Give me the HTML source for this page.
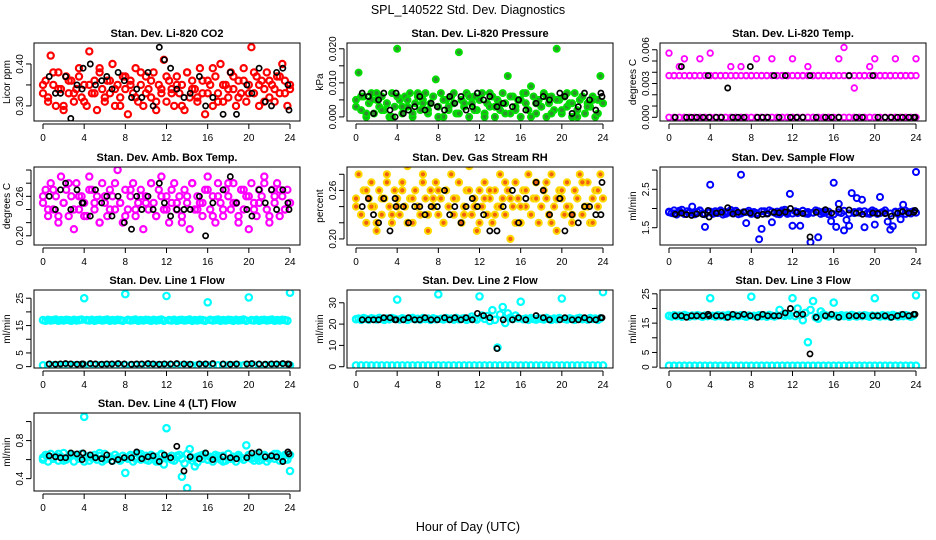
<!DOCTYPE html>
<html><head><meta charset="utf-8">
<style>
html,body{margin:0;padding:0;background:#fff;}
svg{display:block;font-family:"Liberation Sans",Arial,sans-serif;}
.t{font-size:11px;font-weight:bold;text-anchor:middle;}
.tk{font-size:10px;}
</style></head>
<body>
<svg id="chart" width="936" height="540" viewBox="0 0 936 540" xmlns="http://www.w3.org/2000/svg">
<rect x="0" y="0" width="936" height="540" fill="#fff"/>
<text x="468" y="14" text-anchor="middle" font-size="12.5">SPL_140522  Std. Dev. Diagnostics</text>
<text x="468" y="531" text-anchor="middle" font-size="12.5">Hour of Day (UTC)</text>
</svg>
<script>
// ---------- data ----------
const xTicks = [0,4,8,12,16,20,24];
const blackHours = [0.6,1.2,1.7,2.2,2.7,3.3,3.8,3.9,4.6,5.1,5.7,6.2,6.7,7.3,7.9,8.6,9.1,9.6,10.2,10.7,11.3,11.8,12.4,13.0,13.7,14.3,15.2,15.8,16.5,17.5,18.2,18.8,19.8,20.3,21.0,21.6,22.2,22.7,23.3,23.8,23.9];

const co2A = [0.33,0.36,0.31,0.42,0.35,0.30,0.38,0.34,0.29,0.37,0.33,0.36,0.31,0.34,0.39,0.32,0.35,0.30,0.43,0.33,0.36,0.29,0.38,0.34,0.31,0.36,0.33,0.40,0.30,0.35,0.32,0.37,0.34,0.28,0.36,0.33,0.39,0.31,0.35,0.30,0.37,0.34,0.32,0.38,0.29,0.35,0.33,0.41,0.31,0.36,0.34,0.30,0.37,0.33,0.35,0.29,0.38,0.32,0.36,0.34,0.31,0.39,0.33,0.28,0.36,0.35,0.30,0.37,0.33,0.40,0.31,0.35,0.32,0.38,0.34,0.30,0.36,0.33,0.39,0.31,0.35,0.44,0.33,0.37,0.30,0.36,0.34,0.38,0.32,0.35,0.31,0.37,0.33,0.40,0.36,0.30,0.34];
const co2B = [0.35,0.32,0.38,0.34,0.30,0.36,0.33,0.37,0.31,0.35,0.33,0.39,0.32,0.36,0.34,0.30,0.37,0.35,0.32,0.38,0.33,0.36,0.31,0.34,0.37,0.33,0.35,0.30,0.38,0.34,0.32,0.36,0.33,0.39,0.31,0.35,0.34,0.37,0.32,0.36,0.33,0.38,0.35,0.31,0.36,0.34,0.37,0.33,0.35];
const co2Black = [0.37,0.33,0.33,0.37,0.27,0.35,0.34,0.39,0.40,0.35,0.36,0.37,0.34,0.38,0.36,0.32,0.34,0.32,0.38,0.30,0.44,0.41,0.39,0.34,0.32,0.33,0.37,0.30,0.32,0.28,0.38,0.28,0.35,0.33,0.39,0.31,0.30,0.38,0.39,0.35,0.29];

const presA = [0.005,0.013,0.002,0.006,0.000,0.004,0.007,0.001,0.005,0.003,0.006,0.002,0.004,0.000,0.007,0.003,0.020,0.005,0.001,0.006,0.003,0.007,0.000,0.004,0.006,0.002,0.005,0.007,0.001,0.004,0.006,0.011,0.003,0.007,0.000,0.005,0.002,0.006,0.004,0.001,0.019,0.005,0.003,0.007,0.000,0.004,0.006,0.002,0.005,0.007,0.001,0.004,0.003,0.006,0.000,0.005,0.002,0.007,0.004,0.012,0.001,0.006,0.003,0.005,0.000,0.007,0.004,0.002,0.009,0.006,0.001,0.005,0.003,0.007,0.000,0.004,0.006,0.002,0.020,0.005,0.001,0.006,0.003,0.004,0.000,0.007,0.002,0.005,0.006,0.001,0.004,0.003,0.006,0.000,0.005,0.012,0.004];
const presB = [0.003,0.006,0.001,0.005,0.007,0.002,0.004,0.000,0.006,0.003,0.005,0.001,0.007,0.004,0.002,0.006,0.000,0.005,0.003,0.007,0.001,0.004,0.006,0.002,0.005,0.000,0.007,0.003,0.004,0.001,0.006,0.002,0.005,0.007,0.000,0.004,0.003,0.006,0.001,0.005,0.002,0.007,0.004,0.000,0.006,0.003,0.005,0.001,0.004];
const presBlack = [0.007,0.006,0.001,0.005,0.007,0.002,0.000,0.007,0.001,0.002,0.003,0.006,0.002,0.004,0.003,0.002,0.006,0.004,0.006,0.002,0.003,0.007,0.005,0.006,0.003,0.004,0.003,0.005,0.002,0.004,0.006,0.005,0.007,0.006,0.001,0.003,0.007,0.005,0.002,0.007,0.006];

const tempUpper = [0.0057,0.0037,0.0045,0.0052,0.0037,0.0037,0.0052,0.0037,0.0057,0.0037,0.0037,0.0037,0.0045,0.0037,0.0045,0.0037,0.0037,0.0052,0.0037,0.0037,0.0052,0.0037,0.0037,0.0037,0.0052,0.0037,0.0037,0.0045,0.0037,0.0037,0.0037,0.0037,0.0037,0.0052,0.0062,0.0037,0.0026,0.0037,0.0037,0.0045,0.0052,0.0037,0.0037,0.0037,0.0052,0.0037,0.0037,0.0037,0.0052];
const tempMid = [0.0037,0.0037,0.0037,0.0037,0.0037,0.0037,0.0037,0.0037,0.0037,0.0037,0.0037,0.0037,0.0037,0.0037,0.0037,0.0037,0.0037,0.0037,0.0037,0.0037,0.0037,0.0037,0.0037,0.0037,0.0037,0.0037,0.0037,0.0037,0.0037,0.0037,0.0037,0.0037,0.0037,0.0037,0.0037,0.0037,0.0037,0.0037,0.0037,0.0037,0.0037,0.0037,0.0037,0.0037,0.0037,0.0037,0.0037,0.0037,0.0037];
const tempLower = [0,0,0,0,0,0,0,0,0,0,0,0,0,0,0,0,0,0,0,0,0,0,0,0,0,0,0,0,0,0,0,0,0,0,0,0,0,0,0,0,0,0,0,0,0,0,0,0,0];
const tempBlack = [0,0.0045,0,0,0,0,0.0037,0,0,0,0.0026,0,0,0,0.0045,0,0,0,0.0037,0,0.0037,0,0,0,0.0037,0,0,0,0,0.0037,0,0,0.0037,0,0,0,0,0,0,0,0];

const ambA = [0.25,0.27,0.23,0.28,0.24,0.26,0.22,0.29,0.25,0.27,0.23,0.26,0.21,0.28,0.24,0.26,0.25,0.23,0.29,0.27,0.24,0.26,0.22,0.28,0.25,0.23,0.27,0.26,0.24,0.30,0.25,0.22,0.27,0.24,0.26,0.28,0.23,0.25,0.27,0.21,0.26,0.24,0.28,0.25,0.23,0.27,0.29,0.24,0.26,0.22,0.25,0.28,0.24,0.26,0.23,0.27,0.25,0.21,0.28,0.24,0.26,0.25,0.23,0.27,0.29,0.24,0.26,0.22,0.28,0.25,0.23,0.27,0.26,0.24,0.28,0.25,0.22,0.27,0.24,0.26,0.21,0.28,0.25,0.23,0.27,0.26,0.29,0.24,0.22,0.27,0.25,0.28,0.23,0.26,0.24,0.27,0.25];
const ambB = [0.26,0.24,0.27,0.23,0.25,0.28,0.24,0.26,0.23,0.27,0.25,0.22,0.26,0.24,0.28,0.25,0.23,0.27,0.24,0.26,0.25,0.28,0.23,0.26,0.24,0.27,0.25,0.22,0.26,0.28,0.24,0.25,0.27,0.23,0.26,0.24,0.28,0.25,0.23,0.27,0.26,0.24,0.25,0.28,0.23,0.26,0.27,0.24,0.25];
const ambBlack = [0.26,0.24,0.27,0.28,0.24,0.27,0.25,0.25,0.23,0.27,0.25,0.26,0.23,0.26,0.22,0.21,0.26,0.24,0.26,0.24,0.28,0.25,0.23,0.24,0.24,0.24,0.26,0.20,0.25,0.27,0.29,0.25,0.24,0.23,0.27,0.25,0.27,0.24,0.27,0.25,0.24];

const rhA = [0.24,0.28,0.23,0.26,0.22,0.25,0.27,0.24,0.21,0.26,0.23,0.25,0.28,0.24,0.22,0.26,0.25,0.23,0.27,0.24,0.29,0.25,0.22,0.26,0.24,0.23,0.28,0.25,0.21,0.26,0.24,0.27,0.23,0.25,0.22,0.26,0.24,0.28,0.23,0.25,0.27,0.22,0.24,0.26,0.29,0.23,0.25,0.21,0.26,0.24,0.27,0.23,0.25,0.22,0.26,0.24,0.28,0.25,0.23,0.26,0.20,0.24,0.27,0.25,0.22,0.26,0.24,0.28,0.23,0.25,0.27,0.22,0.24,0.26,0.25,0.23,0.28,0.24,0.21,0.26,0.25,0.23,0.27,0.24,0.22,0.26,0.25,0.28,0.23,0.24,0.27,0.22,0.25,0.26,0.24,0.28,0.25];
const rhB = [0.25,0.23,0.26,0.24,0.22,0.25,0.27,0.23,0.24,0.26,0.22,0.25,0.24,0.27,0.23,0.25,0.26,0.22,0.24,0.25,0.27,0.23,0.26,0.24,0.22,0.25,0.26,0.23,0.24,0.27,0.25,0.22,0.24,0.26,0.23,0.25,0.24,0.27,0.22,0.25,0.26,0.24,0.23,0.25,0.27,0.24,0.22,0.26,0.25];
const rhBlack = [0.24,0.25,0.23,0.22,0.25,0.21,0.25,0.24,0.24,0.22,0.24,0.24,0.23,0.24,0.24,0.26,0.23,0.24,0.22,0.24,0.25,0.24,0.23,0.21,0.21,0.24,0.26,0.22,0.25,0.27,0.26,0.23,0.25,0.21,0.23,0.22,0.24,0.24,0.23,0.23,0.27];

const sfA = [1.92,1.88,1.95,1.84,1.90,1.97,1.86,1.93,1.89,2.05,1.85,1.91,1.94,1.87,1.52,1.90,2.62,1.86,1.93,1.88,1.95,1.84,1.91,1.89,1.96,1.87,1.92,1.85,2.88,1.90,1.62,1.94,1.86,1.91,1.88,1.20,1.47,1.93,1.87,1.95,1.64,1.89,1.92,1.85,1.90,1.97,1.86,2.38,1.55,1.93,1.88,1.55,1.94,1.87,1.91,1.12,1.89,1.95,1.25,1.86,1.92,1.90,1.85,1.67,2.67,1.52,2.12,1.88,1.43,1.70,1.55,2.40,1.88,2.27,1.93,2.23,1.51,1.87,1.90,1.95,1.58,1.86,2.30,1.91,1.88,1.66,1.45,1.54,1.92,1.86,1.72,2.10,1.94,1.90,1.87,1.93,2.95];
const sfB = [1.90,1.87,1.94,1.86,1.91,1.89,1.95,1.85,1.92,1.88,1.93,1.86,1.90,1.94,1.87,1.91,1.89,1.85,1.93,1.88,1.92,1.86,1.95,1.90,1.87,1.91,1.94,1.86,1.89,1.93,1.88,1.92,1.85,1.90,1.94,1.87,1.91,1.89,1.93,1.86,1.92,1.88,1.95,1.87,1.90,1.93,1.86,1.91,1.89];
const sfBlack = [1.85,1.88,1.84,1.82,1.86,1.84,1.95,1.78,1.88,1.90,2.02,1.86,1.90,1.91,1.88,1.82,1.85,1.86,1.90,1.89,1.91,2.00,1.90,1.87,1.26,1.90,1.97,1.88,1.98,1.96,1.88,1.85,1.88,1.87,1.87,1.80,1.88,1.92,1.88,1.90,1.95];

const l1A = [17.0,16.8,17.1,16.9,17.0,17.2,16.8,17.0,16.9,17.1,17.0,16.8,17.1,16.9,17.0,17.2,25.0,17.0,16.9,17.1,16.8,17.0,17.1,16.9,17.0,17.2,16.8,17.0,16.9,17.1,17.0,16.8,26.5,17.1,16.9,17.0,17.2,16.8,17.0,16.9,17.1,17.0,16.8,17.1,16.9,17.0,17.2,16.8,25.8,17.0,16.9,17.1,16.8,17.0,17.1,16.9,17.0,17.2,16.8,17.0,16.9,17.1,17.0,16.8,23.5,17.1,16.9,17.0,17.2,16.8,17.0,16.9,17.1,17.0,16.8,17.1,16.9,17.0,17.2,16.8,25.3,17.0,16.9,17.1,16.8,17.0,17.1,16.9,17.0,17.2,16.8,17.0,16.9,17.1,17.0,16.8,27.0];
const l1Low = [0.5,0.5,0.5,0.5,0.5,0.5,0.5,0.5,0.5,0.5,0.5,0.5,0.5,0.5,0.5,0.5,0.5,0.5,0.5,0.5,0.5,0.5,0.5,0.5,0.5,0.5,0.5,0.5,0.5,0.5,0.5,0.5,0.5,0.5,0.5,0.5,0.5,0.5,0.5,0.5,0.5,0.5,0.5,0.5,0.5,0.5,0.5,0.5,0.5];
const l1Black = [1.0,0.9,1.0,1.1,1.0,0.9,1.0,1.0,1.1,1.0,0.9,1.0,1.0,1.1,1.0,0.9,1.0,1.0,1.1,1.0,0.9,1.0,1.0,1.1,1.0,0.9,1.0,1.0,1.1,1.0,0.9,1.0,1.0,1.1,1.0,0.9,1.0,1.0,1.1,1.0,0.9];

const l2A = [22.3,22.6,22.0,22.8,22.4,22.1,22.7,22.5,22.2,22.9,22.4,22.0,22.6,22.3,22.8,22.5,31.5,22.2,22.7,22.4,22.0,22.6,22.9,22.3,22.5,22.1,22.8,22.4,22.6,22.0,22.7,22.3,34.0,22.5,22.2,22.8,22.4,22.6,22.1,22.9,22.3,22.5,22.7,22.0,22.4,23.5,22.6,22.2,33.0,24.0,22.5,23.8,21.5,26.5,22.0,9.0,24.5,28.0,20.5,25.0,23.0,22.4,24.0,22.7,30.5,22.3,22.6,22.0,22.8,22.4,22.1,22.7,22.5,22.2,22.9,22.4,22.0,22.6,22.3,22.8,32.0,22.5,22.2,22.7,22.4,22.0,22.6,22.9,22.3,22.5,22.1,22.8,22.4,22.6,22.0,22.7,35.0];
const l2Low = [0.6,0.6,0.6,0.6,0.6,0.6,0.6,0.6,0.6,0.6,0.6,0.6,0.6,0.6,0.6,0.6,0.6,0.6,0.6,0.6,0.6,0.6,0.6,0.6,0.6,0.6,0.6,0.6,0.6,0.6,0.6,0.6,0.6,0.6,0.6,0.6,0.6,0.6,0.6,0.6,0.6,0.6,0.6,0.6,0.6,0.6,0.6,0.6,0.6];
const l2Black = [22,22,22,22,23,23,22,22,22,23,22,22,23,22,22,23,22,23,22,23,22,25,24,23,8.5,22,22,23,22,24,23,22,22,23,22,22,23,22,22,23,23];

const l3A = [17.5,17.3,17.7,17.4,17.6,17.2,17.8,17.5,17.3,17.6,17.4,17.7,17.5,17.2,17.6,17.4,23.5,17.5,17.3,17.7,17.4,17.6,17.2,17.8,17.5,17.3,17.6,17.4,17.7,17.5,17.2,17.6,24.0,17.5,17.3,17.7,17.4,17.6,17.2,17.8,17.5,17.3,17.6,19.5,17.7,17.5,18.0,17.6,23.5,17.4,20.0,17.8,16.0,18.5,8.5,19.5,22.5,17.0,16.5,19.0,18.0,17.6,17.3,17.7,22.0,17.5,17.3,17.7,17.4,17.6,17.2,17.8,17.5,17.3,17.6,17.4,17.7,17.5,17.2,17.6,23.5,17.5,17.3,17.7,17.4,17.6,17.2,17.8,17.5,17.3,17.6,17.4,17.7,17.5,17.2,17.6,24.5];
const l3Low = [0.5,0.5,0.5,0.5,0.5,0.5,0.5,0.5,0.5,0.5,0.5,0.5,0.5,0.5,0.5,0.5,0.5,0.5,0.5,0.5,0.5,0.5,0.5,0.5,0.5,0.5,0.5,0.5,0.5,0.5,0.5,0.5,0.5,0.5,0.5,0.5,0.5,0.5,0.5,0.5,0.5,0.5,0.5,0.5,0.5,0.5,0.5,0.5,0.5];
const l3Black = [17.5,17.5,17,17.5,17.5,17.5,18,17.5,17.5,17.5,17,18,17.5,18,17.5,17,18,17.5,17.5,17.5,18.5,20,18,18,4.5,17,17.5,18,17,17.5,17.5,17.5,17.5,17.5,17.5,17,17.5,18,17.5,18,18];

const l4A = [0.62,0.65,0.58,0.66,0.61,0.64,0.59,0.63,0.67,0.60,0.62,0.65,0.58,0.64,0.61,0.66,1.05,0.63,0.59,0.62,0.65,0.60,0.64,0.58,0.66,0.61,0.63,0.59,0.65,0.62,0.60,0.64,0.46,0.61,0.65,0.58,0.63,0.66,0.60,0.62,0.64,0.59,0.65,0.61,0.63,0.58,0.66,0.55,0.93,0.62,0.64,0.59,0.63,0.65,0.42,0.56,0.30,0.71,0.62,0.53,0.57,0.64,0.61,0.66,0.60,0.63,0.58,0.65,0.62,0.60,0.64,0.59,0.66,0.61,0.63,0.58,0.65,0.62,0.60,0.75,0.64,0.61,0.59,0.66,0.63,0.60,0.65,0.58,0.62,0.64,0.61,0.66,0.59,0.63,0.65,0.60,0.48];
const l4B = [0.60,0.64,0.62,0.66,0.59,0.63,0.65,0.61,0.58,0.64,0.62,0.67,0.60,0.63,0.65,0.59,0.62,0.64,0.61,0.66,0.60,0.63,0.58,0.65,0.62,0.60,0.64,0.61,0.66,0.59,0.63,0.65,0.60,0.62,0.64,0.58,0.66,0.61,0.63,0.60,0.65,0.62,0.59,0.64,0.61,0.66,0.63,0.60,0.65];
const l4Black = [0.64,0.63,0.62,0.62,0.67,0.66,0.60,0.67,0.65,0.62,0.61,0.65,0.58,0.60,0.62,0.62,0.68,0.61,0.63,0.64,0.58,0.65,0.62,0.74,0.48,0.63,0.61,0.67,0.60,0.63,0.62,0.61,0.62,0.67,0.68,0.63,0.64,0.63,0.58,0.68,0.66];

// ---------- rendering ----------
const NS = 'http://www.w3.org/2000/svg';
const svg = document.getElementById('chart');
const colLeft = [34, 347, 660];
const rowTop = [43, 167, 290, 413];
const BW = 266, BH = 78;

function mk(tag, attrs, parent) {
  const e = document.createElementNS(NS, tag);
  for (const k in attrs) e.setAttribute(k, attrs[k]);
  (parent || svg).appendChild(e);
  return e;
}

const panels = [
  {key:'co2', title:'Stan. Dev. Li-820 CO2', ylab:'Licor ppm', col:0,row:0, dom:[0.264,0.45], ticks:[0.30,0.35,0.40], labels:['0.30','','0.40'],
   series:[{v:co2A,c:'#ff0000'},{v:co2B,c:'#ff0000'}], black:co2Black, r:3.1, sw:2.2},
  {key:'pressure', title:'Stan. Dev. Li-820 Pressure', ylab:'kPa', col:1,row:0, dom:[-0.0012,0.0217], ticks:[0,0.005,0.010,0.015,0.020], labels:['0.000','','0.010','','0.020'],
   series:[{v:presA,c:'#00e000',f:'#2f8f2f'},{v:presB,c:'#00e000',f:'#2f8f2f'}], black:presBlack, r:3.0, sw:2.0},
  {key:'temp', title:'Stan. Dev. Li-820 Temp.', ylab:'degrees C', col:2,row:0, dom:[-0.00033,0.0066], ticks:[0,0.001,0.002,0.003,0.004,0.005,0.006], labels:['0.000','','','0.003','','','0.006'],
   series:[{v:tempUpper,c:'#ff00ff'},{v:tempMid,c:'#ff00ff'},{v:tempLower,c:'#ff00ff'}], black:tempBlack, r:2.8, sw:1.8},
  {key:'amb-temp', title:'Stan. Dev. Amb. Box Temp.', ylab:'degrees C', col:0,row:1, dom:[0.186,0.3046], ticks:[0.20,0.22,0.24,0.26,0.28,0.30], labels:['0.20','','','0.26','',''],
   series:[{v:ambA,c:'#ff00ff'},{v:ambB,c:'#ff00ff'}], black:ambBlack, r:3.1, sw:2.2},
  {key:'rh', title:'Stan. Dev. Gas Stream RH', ylab:'percent', col:1,row:1, dom:[0.1925,0.289], ticks:[0.20,0.22,0.24,0.26,0.28], labels:['0.20','','','0.26',''],
   series:[{v:rhA,c:'#ffd800',f:'#f06010'},{v:rhB,c:'#ffd800',f:'#f06010'}], black:rhBlack, r:3.1, sw:2.0},
  {key:'sample-flow', title:'Stan. Dev. Sample Flow', ylab:'ml/min', col:2,row:1, dom:[1.05,3.08], ticks:[1.5,2.0,2.5,3.0], labels:['1.5','','2.5',''],
   series:[{v:sfA,c:'#0000ff'},{v:sfB,c:'#0000ff'}], black:sfBlack, r:3.0, sw:2.0},
  {key:'line1-flow', title:'Stan. Dev. Line 1 Flow', ylab:'ml/min', col:0,row:2, dom:[-0.5,28], ticks:[0,5,10,15,20,25], labels:['0','5','','15','','25'],
   series:[{v:l1Low,c:'#00ffff'},{v:l1A,c:'#00ffff'}], black:l1Black, r:3.2, sw:2.2},
  {key:'line2-flow', title:'Stan. Dev. Line 2 Flow', ylab:'ml/min', col:1,row:2, dom:[-0.6,36], ticks:[0,10,20,30], labels:['0','10','20','30'],
   series:[{v:l2Low,c:'#00ffff'},{v:l2A,c:'#00ffff'}], black:l2Black, r:3.2, sw:2.2},
  {key:'line3-flow', title:'Stan. Dev. Line 3 Flow', ylab:'ml/min', col:2,row:2, dom:[-0.3,26.3], ticks:[0,5,10,15,20,25], labels:['0','5','','15','','25'],
   series:[{v:l3Low,c:'#00ffff'},{v:l3A,c:'#00ffff'}], black:l3Black, r:3.2, sw:2.2},
  {key:'line4-flow', title:'Stan. Dev. Line 4 (LT) Flow', ylab:'ml/min', col:0,row:3, dom:[0.27,1.09], ticks:[0.4,0.6,0.8,1.0], labels:['0.4','','0.8',''],
   series:[{v:l4A,c:'#00ffff'},{v:l4B,c:'#00ffff'}], black:l4Black, r:3.2, sw:2.2}
];

panels.forEach(p => {
  const L = colLeft[p.col], T = rowTop[p.row];
  const g = mk('g', {});
  
  
  const xs = h => L + 9 + h * (247 / 24);
  const ys = v => T + BH - (v - p.dom[0]) / (p.dom[1] - p.dom[0]) * BH;

  const title = mk('text', {x: L + BW/2, y: T - 6, class:'t'}, g);
  title.textContent = p.title;
  
  

  const clipId = 'clip-' + p.key;
  const cp = mk('clipPath', {id: clipId}, g);
  mk('rect', {x: L, y: T, width: BW, height: BH}, cp);
  const pts = mk('g', {'clip-path': 'url(#' + clipId + ')'}, g);
  
  

  p.series.forEach(s => {
    const n = s.v.length;
    s.v.forEach((v, i) => {
      const h = n > 1 ? i * 24 / (n - 1) : 0;
      const c = mk('circle', {cx: xs(h).toFixed(1), cy: ys(v).toFixed(1), r: p.r, fill: s.f || 'none', stroke: s.c, 'stroke-width': p.sw}, pts);
      
      
    });
  });
  const nb = Math.min(blackHours.length, p.black.length);
  for (let i = 0; i < nb; i++) {
    const c = mk('circle', {cx: xs(blackHours[i]).toFixed(1), cy: ys(p.black[i]).toFixed(1), r: 2.6, fill: 'none', stroke: '#000', 'stroke-width': 1.7}, pts);
    
    
  }

  const box = mk('rect', {x: L, y: T, width: BW, height: BH, fill: 'none', stroke: '#000', 'stroke-width': 1}, g);
  
  

  const xa = mk('g', {}, g);
  
  
  mk('line', {x1: xs(0), x2: xs(24), y1: T + BH + 3, y2: T + BH + 3, stroke: '#000'}, xa);
  xTicks.forEach(t => {
    mk('line', {x1: xs(t), x2: xs(t), y1: T + BH + 3, y2: T + BH + 8, stroke: '#000'}, xa);
    const tl = mk('text', {x: xs(t), y: T + BH + 20, 'text-anchor': 'middle', class: 'tk'}, xa);
    tl.textContent = String(t);
    
    
  });

  const ya = mk('g', {}, g);
  
  
  mk('line', {x1: L - 3, x2: L - 3, y1: ys(p.ticks[0]), y2: ys(p.ticks[p.ticks.length - 1]), stroke: '#000'}, ya);
  p.ticks.forEach((t, i) => {
    const y = ys(t);
    mk('line', {x1: L - 8, x2: L - 3, y1: y, y2: y, stroke: '#000'}, ya);
    if (p.labels[i]) {
      const tl = mk('text', {x: L - 11, y: y, 'text-anchor': 'middle', class: 'tk', transform: 'rotate(-90 ' + (L - 11) + ' ' + y + ')'}, ya);
      tl.textContent = p.labels[i];
      
      
    }
  });
  const yl = mk('text', {x: L - 24, y: T + BH/2, 'text-anchor': 'middle', 'font-size': 10, transform: 'rotate(-90 ' + (L - 24) + ' ' + (T + BH/2) + ')'}, g);
  yl.textContent = p.ylab;
  
  
});
</script>
</body></html>
